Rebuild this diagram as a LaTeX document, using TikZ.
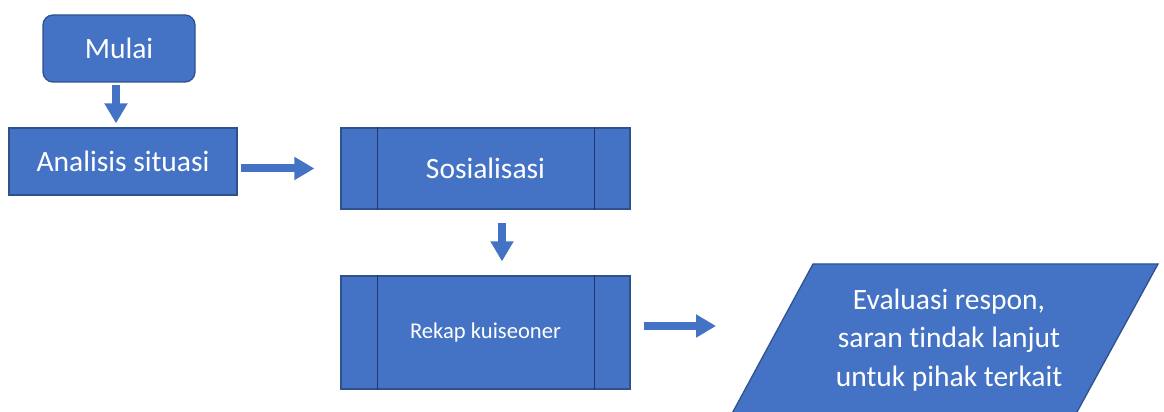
\documentclass[tikz,border=0pt]{standalone}
\usepackage{fontspec}
\setmainfont{Carlito}[Ligatures={NoCommon}]
\usetikzlibrary{arrows.meta}
\definecolor{boxfill}{HTML}{4472C4}
\definecolor{boxline}{HTML}{2F528F}
\definecolor{innerline}{HTML}{1F3864}
\tikzset{
  box/.style={draw=boxline, line width=1.3pt, fill=boxfill, text=white,
    inner sep=0pt, align=center, font=\fontsize{29.5}{38.5}\selectfont},
  startbox/.style={box, rounded corners=10pt},
  flowarrow/.style={draw=boxfill, line width=8pt,
    -{Triangle[length=20pt,width=22pt]}},
  sidebar/.style={draw=innerline, line width=1.3pt}
}
\begin{document}
\begin{tikzpicture}[x=1pt,y=1pt]
\useasboundingbox (0,0) rectangle (1164,412);

% process boxes
\node[startbox, minimum width=152pt, minimum height=67pt] (mulai) at (119,363.5) {Mulai};
\node[box, minimum width=228pt, minimum height=67pt] (analisis) at (123,250.5) {Analisis situasi};
\node[box, minimum width=289pt, minimum height=81pt] (sos) at (485.5,243.5) {Sosialisasi};
\node[box, minimum width=289pt, minimum height=113pt,
      font=\fontsize{22.6}{28}\selectfont] (rekap) at (485.5,79.5) {};
\node[text=white, font=\fontsize{22.6}{28}\selectfont] at (rekap) {Rekap kuiseoner};

% side bars of the predefined-process boxes
\foreach \n in {sos,rekap}{
  \draw[sidebar] ([xshift=37pt]\n.north west) -- ([xshift=37pt]\n.south west);
  \draw[sidebar] ([xshift=-36pt]\n.north east) -- ([xshift=-36pt]\n.south east);
}

% output parallelogram, running off the lower edge
\begin{scope}
  \clip (0,0) rectangle (1164,412);
  \coordinate (pTL) at (813,148);
  \coordinate (pTR) at (1158,148);
  \coordinate (pBR) at (1066,-20);
  \coordinate (pBL) at (722,-20);
  \draw[draw=boxline, line width=1.3pt, fill=boxfill] (pTL) -- (pTR) -- (pBR) -- (pBL) -- cycle;
\end{scope}
\node[text=white, align=center, font=\fontsize{29.5}{38.5}\selectfont] (eval) at (949,72)
  {Evaluasi respon,\\ saran tindak lanjut\\ untuk pihak terkait};
\coordinate (evalW) at (779,86);

% connectors
\draw[flowarrow, shorten <=2pt, shorten >=4pt]
  ([xshift=-3pt]mulai.south) -- ([xshift=-3pt]mulai.south |- analisis.north);
\draw[flowarrow, shorten <=3pt, shorten >=26pt]
  (analisis.east |- sos.west) -- (sos.west);
\draw[flowarrow, shorten <=13pt, shorten >=14pt]
  ([xshift=16.5pt]sos.south) -- ([xshift=16.5pt]sos.south |- rekap.north);
\draw[flowarrow, shorten <=13pt, shorten >=63pt]
  ([yshift=6.5pt]rekap.east) -- (evalW);
\end{tikzpicture}
\end{document}
